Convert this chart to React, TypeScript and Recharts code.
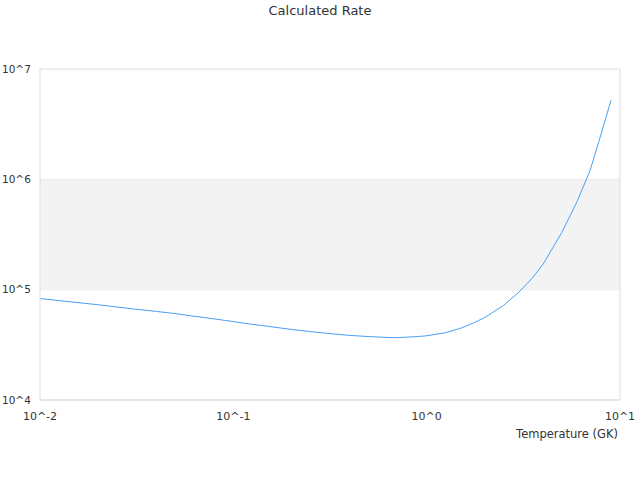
import { LineChart, Line, XAxis, YAxis, CartesianGrid, ReferenceArea, ReferenceLine } from 'recharts';

const temperatures = [
  0.01, 0.015, 0.02, 0.03, 0.04, 0.05, 0.06, 0.07, 0.08, 0.09, 0.1, 0.12, 0.15, 0.2, 0.25, 0.3,
  0.4, 0.5, 0.6, 0.7, 0.8, 0.9, 1.0, 1.25, 1.5, 1.75, 2.0, 2.5, 3.0, 3.5, 4.0, 5.0, 6.0, 7.0, 8.0, 9.0
];

const rates = [
  8.3e4, 7.7e4, 7.3e4, 6.7e4, 6.35e4, 6.07e4, 5.8e4, 5.6e4, 5.43e4, 5.27e4, 5.14e4, 4.9e4, 4.66e4, 4.36e4, 4.17e4, 4.03e4,
  3.85e4, 3.76e4, 3.7e4, 3.67e4, 3.72e4, 3.76e4, 3.82e4, 4.07e4, 4.47e4, 5.0e4, 5.6e4, 7.2e4, 9.5e4, 1.26e5, 1.7e5, 3.3e5, 6.3e5, 1.2e6, 2.6e6, 5.25e6
];

const xTicks = [0.01, 0.1, 1, 10];
const yTicks = [1e4, 1e5, 1e6, 1e7];

const data = temperatures.map((t, i) => ({ t, rate: rates[i] }));

const powerLabel = (v: number) => `10^${Math.round(Math.log10(v))}`;

// y labels sit flush left in the reference, so draw them from x=2
const YTick = (props: any) => (
  <text x={2} y={props.y} dy="0.355em" textAnchor="start" fill="#333" fontSize={10.5}>
    {powerLabel(props.payload.value)}
  </text>
);

export default function App() {
  return (
    <div style={{ position: 'absolute', left: 0, top: 0, width: 640, height: 480, fontFamily: 'DejaVu Sans' }}>
      <div
        style={{
          position: 'absolute',
          top: 3,
          left: 0,
          width: 640,
          textAlign: 'center',
          fontSize: 13,
          color: '#333',
        }}
      >
        Calculated Rate
      </div>
      <LineChart width={640} height={480} data={data} margin={{ top: 69, right: 20, bottom: 40, left: 0 }}>
        <ReferenceArea y1={1e5} y2={1e6} fill="#f3f3f3" fillOpacity={1} stroke="none" ifOverflow="hidden" />
        <CartesianGrid vertical={false} stroke="#dddddd" />
        <XAxis
          dataKey="t"
          type="number"
          scale="log"
          domain={[0.01, 10]}
          ticks={xTicks}
          tickFormatter={powerLabel}
          allowDataOverflow
          height={40}
          stroke="#dddddd"
          tickLine={false}
          tick={{ fill: '#333', fontSize: 11 }}
          tickMargin={6}
          label={{ value: 'Temperature (GK)', position: 'insideBottomRight', offset: 2, fill: '#333', fontSize: 11.5 }}
        />
        <YAxis
          type="number"
          scale="log"
          domain={[1e4, 1e7]}
          ticks={yTicks}
          allowDataOverflow
          width={40}
          stroke="#dddddd"
          tickLine={false}
          tick={YTick}
        />
        <ReferenceLine x={10} stroke="#dddddd" />
        <Line
          dataKey="rate"
          type="linear"
          stroke="#4a9ff5"
          strokeWidth={1}
          dot={false}
          isAnimationActive={false}
        />
      </LineChart>
    </div>
  );
}
